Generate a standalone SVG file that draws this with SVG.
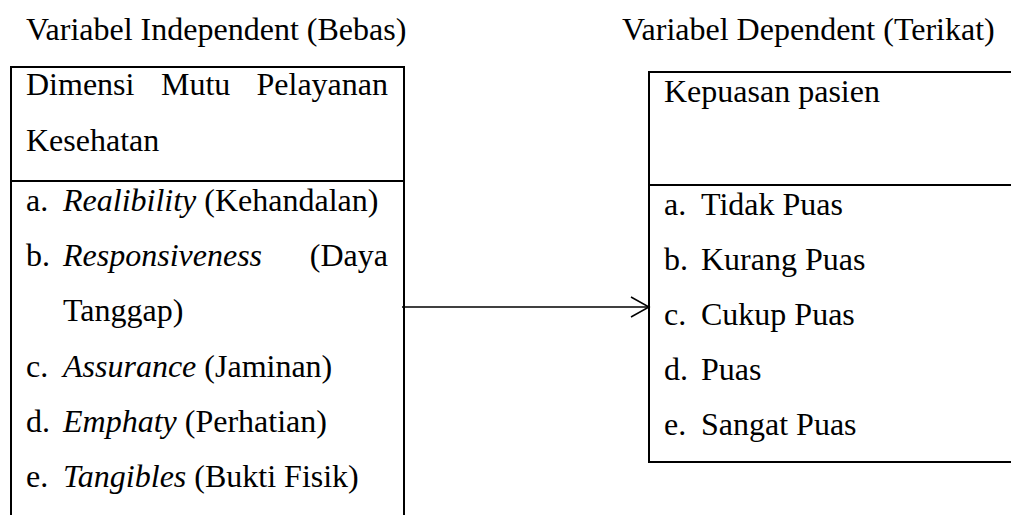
<svg xmlns="http://www.w3.org/2000/svg" width="1011" height="515" viewBox="0 0 1011 515">
  <style>
    text { font-family: "Liberation Serif", "Times New Roman", serif; font-size: 32px; fill: #000; }
    .it { font-style: italic; }
    .box { fill: none; stroke: #000; stroke-width: 2; }
    .conn { fill: none; stroke: #000; stroke-width: 1.5; }
  </style>
  <rect width="1011" height="515" fill="#fff"/>
  <g id="label-independent">
    <text x="26" y="40">Variabel Independent (Bebas)</text>
  </g>
  <g id="label-dependent">
    <text x="622" y="40">Variabel Dependent (Terikat)</text>
  </g>
  <g id="node-independent">
    <path class="box" d="M11,520 V67 H404 V520 M11,181 H404"/>
    <text x="26" y="95">Dimensi</text>
    <text x="161" y="95">Mutu</text>
    <text x="388" y="95" text-anchor="end">Pelayanan</text>
    <text x="26" y="151">Kesehatan</text>
    <text x="26" y="211">a.</text>
    <text x="63" y="211"><tspan class="it">Realibility</tspan> (Kehandalan)</text>
    <text x="26" y="266">b.</text>
    <text x="63" y="266" class="it">Responsiveness</text>
    <text x="388" y="266" text-anchor="end">(Daya</text>
    <text x="63" y="321">Tanggap)</text>
    <text x="26" y="377">c.</text>
    <text x="63" y="377"><tspan class="it">Assurance</tspan> (Jaminan)</text>
    <text x="26" y="432">d.</text>
    <text x="63" y="432"><tspan class="it">Emphaty</tspan> (Perhatian)</text>
    <text x="26" y="487">e.</text>
    <text x="63" y="487"><tspan class="it">Tangibles</tspan> (Bukti Fisik)</text>
  </g>
  <g id="node-dependent">
    <path class="box" d="M1015,72 H649 V462 H1015 M649,185 H1015"/>
    <text x="664" y="102">Kepuasan pasien</text>
    <text x="664" y="215">a.</text>
    <text x="701" y="215">Tidak Puas</text>
    <text x="664" y="270">b.</text>
    <text x="701" y="270">Kurang Puas</text>
    <text x="664" y="325">c.</text>
    <text x="701" y="325">Cukup Puas</text>
    <text x="664" y="380">d.</text>
    <text x="701" y="380">Puas</text>
    <text x="664" y="435">e.</text>
    <text x="701" y="435">Sangat Puas</text>
  </g>
  <g id="connectors">
    <line class="conn" x1="402" y1="307" x2="649" y2="307"/>
    <polyline class="conn" points="631,297 649,307 631,317"/>
  </g>
</svg>
